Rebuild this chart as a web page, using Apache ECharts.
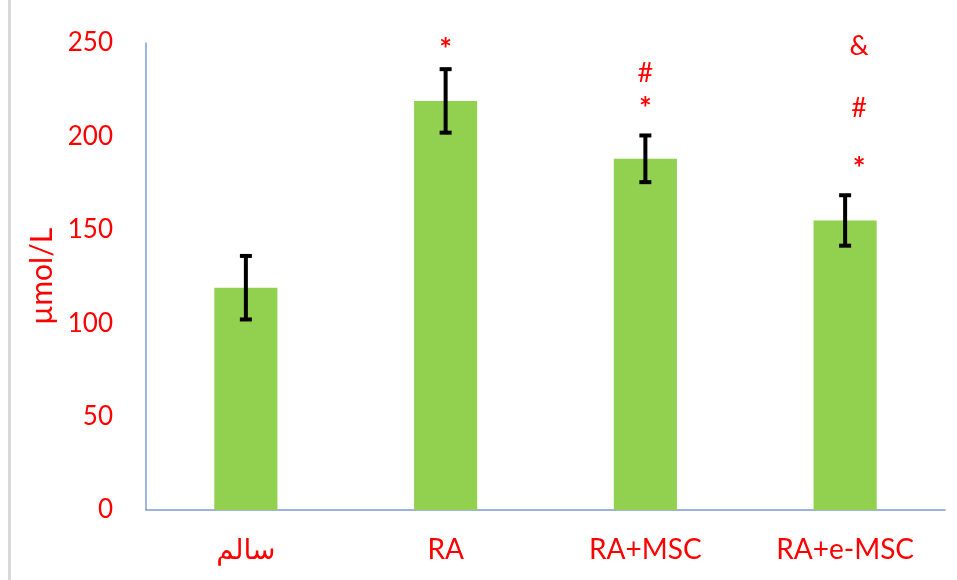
<!DOCTYPE html>
<html>
<head>
<meta charset="utf-8">
<script src="https://cdn.jsdelivr.net/npm/echarts@6/dist/echarts.min.js"></script>
<style>
  html, body { margin: 0; padding: 0; background: #fff; }
  #chart { width: 957px; height: 580px; }
</style>
</head>
<body>
<div id="chart"></div>
<script>
// Groups and measured concentrations (µmol/L)
const categories = ['سالم', 'RA', 'RA+MSC', 'RA+e-MSC'];
const means = [119, 219, 188, 155];
const errors = [17, 17, 12.5, 13.5];

// Significance markers per group: symbol and the height (in axis units) it sits at
const markSymbols = [[], ['*'], ['#', '*'], ['&', '#', '*']];
const markLevels = [[], [249], [234, 217], [248, 215, 185]];

const yTicks = [0, 50, 100, 150, 200, 250];

const RED = '#FF0000';
const AXIS_BLUE = '#7F9BD6';
const FONT = 'Lato, "DejaVu Sans", sans-serif';

const errorData = means.map((m, i) => [i, m - errors[i], m + errors[i]]);

// one entry per marker: [group index, height, symbol index]
const markData = [];
markSymbols.forEach((syms, i) => {
  syms.forEach((s, k) => markData.push([i, markLevels[i][k], k]));
});

const chart = echarts.init(document.getElementById('chart'), null, { renderer: 'canvas' });

chart.setOption({
  animation: false,
  backgroundColor: '#ffffff',
  grid: { left: 146, right: 12, top: 43, bottom: 70, containLabel: false },
  graphic: [{
    type: 'rect',
    shape: { x: 8, y: 0, width: 3, height: 580 },
    style: { fill: '#D9D9D9' },
    silent: true
  }],
  xAxis: {
    type: 'category',
    data: categories,
    axisLine: { show: true, lineStyle: { color: AXIS_BLUE, width: 1.5 } },
    axisTick: { show: false },
    axisLabel: { color: RED, fontFamily: FONT, fontSize: 28, margin: 26 }
  },
  yAxis: {
    type: 'value',
    min: 0,
    max: 250,
    interval: 50,
    name: 'µmol/L',
    nameLocation: 'middle',
    nameGap: 86,
    nameRotate: 90,
    nameTextStyle: { color: RED, fontFamily: FONT, fontSize: 30 },
    axisLine: { show: true, lineStyle: { color: AXIS_BLUE, width: 1.5 } },
    axisTick: { show: false },
    splitLine: { show: false },
    axisLabel: {
      color: RED, fontFamily: FONT, fontSize: 26, margin: 33,
      formatter: v => (yTicks.indexOf(v) >= 0 ? String(v) : '')
    }
  },
  series: [
    {
      type: 'bar',
      data: means,
      barWidth: '31.6%',
      itemStyle: { color: '#92D050' },
      silent: true
    },
    {
      type: 'custom',
      data: errorData,
      silent: true,
      z: 5,
      renderItem: (params, api) => {
        const x = api.value(0);
        const lo = api.coord([x, api.value(1)]);
        const hi = api.coord([x, api.value(2)]);
        const cap = 6;
        const style = { stroke: '#000', lineWidth: 4 };
        return {
          type: 'group',
          children: [
            { type: 'line', shape: { x1: lo[0], y1: lo[1], x2: hi[0], y2: hi[1] }, style },
            { type: 'line', shape: { x1: hi[0] - cap, y1: hi[1], x2: hi[0] + cap, y2: hi[1] }, style },
            { type: 'line', shape: { x1: lo[0] - cap, y1: lo[1], x2: lo[0] + cap, y2: lo[1] }, style }
          ]
        };
      }
    },
    {
      type: 'custom',
      data: markData,
      silent: true,
      z: 6,
      renderItem: (params, api) => {
        const g = api.value(0);
        const p = api.coord([g, api.value(1)]);
        const sym = markSymbols[g][api.value(2)];
        const isStar = sym === '*';
        const dx = g === 3 ? 14 : 0;
        return {
          type: 'text',
          x: p[0] + dx,
          y: p[1] + (isStar ? 5 : 0),
          style: {
            text: sym,
            fill: RED,
            fontFamily: FONT,
            fontSize: isStar ? 30 : 27,
            fontWeight: isStar ? 'bold' : 'normal',
            align: 'center',
            verticalAlign: 'middle'
          }
        };
      }
    }
  ]
});
</script>
</body>
</html>
